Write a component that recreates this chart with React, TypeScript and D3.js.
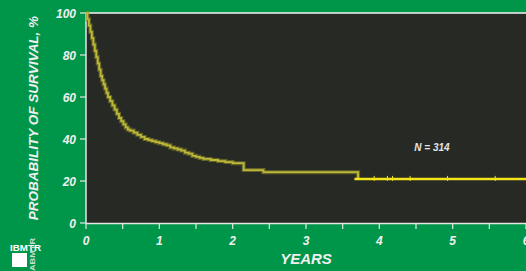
import React, { useEffect, useRef } from 'react';
import * as d3 from 'd3';

// Kaplan-Meier estimate (years, % surviving)
const kmYears = [0, 0.02, 0.04, 0.06, 0.08, 0.1, 0.12, 0.14, 0.16, 0.18, 0.2, 0.22, 0.24, 0.26, 0.28, 0.3, 0.33, 0.36, 0.39, 0.42, 0.45, 0.48, 0.51, 0.54, 0.57, 0.6, 0.65, 0.7, 0.75, 0.8, 0.85, 0.9, 0.95, 1.0, 1.05, 1.1, 1.15, 1.2, 1.25, 1.3, 1.35, 1.4, 1.45, 1.5, 1.55, 1.6, 1.7, 1.8, 1.9, 2.0, 2.15, 2.42, 3.71];
const kmSurvival = [100, 97, 94, 91, 88, 85, 82, 79, 76, 73, 70, 68, 66, 64, 62, 60, 58, 56, 54, 52, 50, 48.5, 47, 45.5, 44.5, 44, 43, 42, 41, 40, 39.5, 39, 38.5, 38, 37.5, 37, 36, 35.5, 35, 34.5, 33.5, 33, 32, 31.5, 31, 30.5, 30, 29.5, 29, 28.5, 25.2, 24.2, 21];
// plateau after the last event, with censored patients
const plateauYears = [3.66, 6];
const plateauSurvival = 21;
const censorYears = [3.93, 4.11, 4.18, 4.42, 4.93, 5.58];

const yTicks = [0, 20, 40, 60, 80, 100];
const xTicks = [0, 1, 2, 3, 4, 5, 6];
const xMinorTicks = [0, 0.5, 1, 1.5, 2, 2.5, 3, 3.5, 4, 4.5, 5, 5.5, 6];
const sampleLabel = 'N = 314';

const W = 526;
const H = 271;
const GREEN = '#009649';
const FONT = '"Liberation Sans", Arial, sans-serif';

const App: React.FC = () => {
  const svgRef = useRef<SVGSVGElement>(null);

  useEffect(() => {
    if (!svgRef.current) return;
    const svg = d3.select(svgRef.current);
    svg.selectAll('*').remove();

    const left = 86, top = 13, right = 526, bottom = 223;
    const x = d3.scaleLinear().domain([0, 6]).range([left, right]);
    const y = d3.scaleLinear().domain([0, 100]).range([bottom, top]);

    const defs = svg.append('defs');
    defs.append('filter').attr('id', 'soft')
      .append('feGaussianBlur').attr('stdDeviation', 0.7);

    svg.append('rect').attr('width', W).attr('height', H).attr('fill', GREEN);
    svg.append('rect')
      .attr('x', left).attr('y', top)
      .attr('width', right - left).attr('height', bottom - top)
      .attr('fill', '#272a24');

    // frame lines
    svg.append('line').attr('x1', left).attr('x2', right).attr('y1', top).attr('y2', top)
      .attr('stroke', '#f4f4f4').attr('stroke-width', 1.5);
    svg.append('line').attr('x1', left).attr('x2', left).attr('y1', top).attr('y2', bottom)
      .attr('stroke', '#e6e6e6').attr('stroke-width', 1.5);
    svg.append('line').attr('x1', left).attr('x2', right).attr('y1', bottom + 0.5).attr('y2', bottom + 0.5)
      .attr('stroke', '#e6e6e6').attr('stroke-width', 1.5);

    // y axis ticks + labels
    const ya = svg.append('g');
    yTicks.forEach((t) => {
      ya.append('line').attr('x1', left - 6).attr('x2', left).attr('y1', y(t)).attr('y2', y(t))
        .attr('stroke', '#e6e6e6').attr('stroke-width', 1.2);
      ya.append('text').attr('x', left - 10).attr('y', y(t) + 4.5)
        .attr('text-anchor', 'end').attr('fill', '#f0f0f0')
        .attr('font-family', FONT).attr('font-size', 12).attr('font-weight', 'bold').attr('font-style', 'italic')
        .text(t);
    });

    // x axis ticks + labels
    const xa = svg.append('g');
    xMinorTicks.forEach((t) => {
      xa.append('line').attr('x1', x(t)).attr('x2', x(t)).attr('y1', bottom).attr('y2', bottom + 6)
        .attr('stroke', '#e6e6e6').attr('stroke-width', 1.2);
    });
    xTicks.forEach((t) => {
      xa.append('text').attr('x', x(t)).attr('y', 245)
        .attr('text-anchor', 'middle').attr('fill', '#f0f0f0')
        .attr('font-family', FONT).attr('font-size', 12).attr('font-weight', 'bold').attr('font-style', 'italic')
        .text(t);
    });

    svg.append('text').attr('x', 306).attr('y', 264)
      .attr('text-anchor', 'middle').attr('fill', '#f0f0f0')
      .attr('font-family', FONT).attr('font-size', 15).attr('font-weight', 'bold').attr('font-style', 'italic')
      .text('YEARS');

    svg.append('text')
      .attr('transform', `translate(38,${(top + bottom) / 2}) rotate(-90)`)
      .attr('text-anchor', 'middle').attr('fill', '#f0f0f0')
      .attr('font-family', FONT).attr('font-size', 13.5).attr('font-weight', 'bold').attr('font-style', 'italic')
      .text('PROBABILITY OF SURVIVAL, %');

    // survival curve (dim, blurred look)
    const pts: [number, number][] = kmYears.map((t, i) => [t, kmSurvival[i]]);
    const line = d3.line<[number, number]>()
      .x((d) => x(d[0])).y((d) => y(d[1]))
      .curve(d3.curveStepAfter);
    svg.append('path').attr('d', line(pts))
      .attr('fill', 'none').attr('stroke', '#8c8a2c').attr('stroke-width', 4).attr('opacity', 0.6)
      .attr('filter', 'url(#soft)');
    svg.append('path').attr('d', line(pts))
      .attr('fill', 'none').attr('stroke', '#bdb838').attr('stroke-width', 1.8)
      .attr('filter', 'url(#soft)');

    // plateau
    svg.append('line')
      .attr('x1', x(plateauYears[0])).attr('x2', x(plateauYears[1]))
      .attr('y1', y(plateauSurvival)).attr('y2', y(plateauSurvival))
      .attr('stroke', '#f4e41a').attr('stroke-width', 2.5);
    censorYears.forEach((t) => {
      svg.append('line').attr('x1', x(t)).attr('x2', x(t))
        .attr('y1', y(plateauSurvival) - 3).attr('y2', y(plateauSurvival) + 2)
        .attr('stroke', '#f4e41a').attr('stroke-width', 1);
    });

    svg.append('text').attr('x', 432).attr('y', 151)
      .attr('text-anchor', 'middle').attr('fill', '#e4e4e4')
      .attr('font-family', FONT).attr('font-size', 10).attr('font-weight', 'bold').attr('font-style', 'italic')
      .text(sampleLabel);

    // logo
    const logo = svg.append('g');
    logo.append('text').attr('x', 10).attr('y', 251)
      .attr('fill', '#ffffff').attr('font-family', FONT).attr('font-size', 8.5).attr('font-weight', 'bold')
      .attr('textLength', 31).attr('lengthAdjust', 'spacingAndGlyphs')
      .text('IBMTR');
    logo.append('rect').attr('x', 12).attr('y', 253).attr('width', 15).attr('height', 14).attr('fill', '#ffffff');
    logo.append('text').attr('transform', 'translate(35,271) rotate(-90)')
      .attr('fill', '#c8dccc').attr('font-family', FONT).attr('font-size', 8).attr('font-weight', 'bold')
      .attr('textLength', 33).attr('lengthAdjust', 'spacingAndGlyphs')
      .text('ABMTR');
  }, []);

  return (
    <div style={{ position: 'fixed', left: 0, top: 0, width: W, height: H }}>
      <svg ref={svgRef} width={W} height={H} style={{ display: 'block' }} />
    </div>
  );
};

export default App;
